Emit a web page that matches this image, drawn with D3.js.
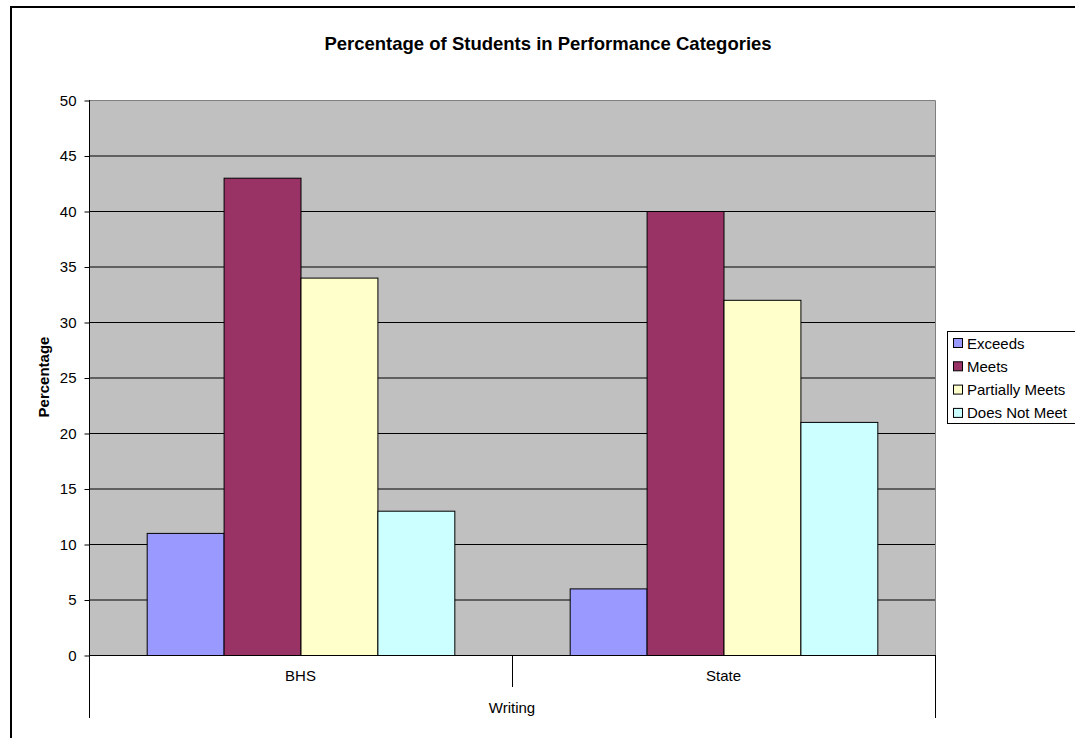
<!DOCTYPE html>
<html>
<head>
<meta charset="utf-8">
<script src="https://cdn.jsdelivr.net/npm/d3@7"></script>
<style>
  body { margin: 0; background: #fff; }
  svg text { font-family: Arial, "Liberation Sans", sans-serif; fill: #000; }
</style>
</head>
<body>
<div id="chart"></div>
<script>

// data
var groups = ["BHS", "State"];
var series = ["Exceeds", "Meets", "Partially Meets", "Does Not Meet"];
var bhsValues = [11, 43, 34, 13];
var stateValues = [6, 40, 32, 21];
var yTicks = [0, 5, 10, 15, 20, 25, 30, 35, 40, 45, 50];
var colors = ["#9999FF", "#993366", "#FFFFCC", "#CCFFFF"];
var chartTitle = "Percentage of Students in Performance Categories";
var yTitle = "Percentage";
var xTitle = "Writing";


/*
 * GroupedBarChart - draws the clustered bars, axes and legend
 */

GroupedBarChart = function(_parentElement){
    this.parentElement = _parentElement;
    this.displayData = [];
    this.initVis();
}

GroupedBarChart.prototype.initVis = function(){
    var vis = this;

    vis.svg = d3.select("#" + vis.parentElement).append("svg")
        .attr("width", 1075)
        .attr("height", 738);

    // outer chart frame (runs off the right and bottom edge)
    vis.svg.append("rect")
        .attr("x", 11).attr("y", 7)
        .attr("width", 1100).attr("height", 780)
        .attr("fill", "#fff")
        .attr("stroke", "#000")
        .attr("stroke-width", 2);

    vis.plot = {left: 89, right: 935, top: 100, bottom: 655};

    vis.x0 = d3.scaleBand()
        .domain(groups)
        .range([vis.plot.left, vis.plot.right])
        .padding(0);

    vis.x1 = d3.scaleBand()
        .domain(series)
        .range([0, vis.x0.bandwidth()])
        .paddingInner(0)
        .paddingOuter(0.75);

    vis.y = d3.scaleLinear()
        .domain([0, 50])
        .range([vis.plot.bottom, vis.plot.top]);

    vis.color = d3.scaleOrdinal()
        .domain(series)
        .range(colors);

    vis.wrangleData();
}

GroupedBarChart.prototype.wrangleData = function(){
    var vis = this;

    var lookup = {BHS: bhsValues, State: stateValues};
    vis.displayData = groups.map(function(g){
        return {group: g, values: series.map(function(s, i){ return {key: s, value: lookup[g][i]}; })};
    });

    vis.updateVis();
}

GroupedBarChart.prototype.updateVis = function(){
    var vis = this;
    var p = vis.plot;

    // plot background
    vis.svg.append("rect")
        .attr("x", p.left).attr("y", p.top)
        .attr("width", p.right - p.left)
        .attr("height", p.bottom - p.top)
        .attr("fill", "#C0C0C0");

    // gridlines
    vis.svg.append("g").selectAll("line")
        .data(yTicks.filter(function(d){ return d > 0 && d < 50; }))
        .enter().append("line")
        .attr("x1", p.left).attr("x2", p.right)
        .attr("y1", function(d){ return vis.y(d) + 0.5; })
        .attr("y2", function(d){ return vis.y(d) + 0.5; })
        .attr("stroke", "#000")
        .attr("stroke-width", 1);

    // plot border, top and right
    vis.svg.append("path")
        .attr("d", "M" + p.left + "," + (p.top + 0.5) + "H" + (p.right + 0.5) + "V" + p.bottom)
        .attr("fill", "none")
        .attr("stroke", "#808080")
        .attr("stroke-width", 1);

    // bars
    var groupsG = vis.svg.selectAll(".group")
        .data(vis.displayData)
        .enter().append("g")
        .attr("class", "group")
        .attr("transform", function(d){ return "translate(" + vis.x0(d.group) + ",0)"; });

    groupsG.selectAll("rect")
        .data(function(d){ return d.values; })
        .enter().append("rect")
        .attr("x", function(d){ return vis.x1(d.key) + 0.5; })
        .attr("y", function(d){ return vis.y(d.value) + 0.5; })
        .attr("width", vis.x1.bandwidth())
        .attr("height", function(d){ return vis.y(0) - vis.y(d.value); })
        .attr("fill", function(d){ return vis.color(d.key); })
        .attr("stroke", "#000")
        .attr("stroke-width", 1);

    // y axis
    vis.yAxis = d3.axisLeft(vis.y)
        .tickValues(yTicks)
        .tickSize(5)
        .tickSizeOuter(0)
        .tickPadding(8);

    var yg = vis.svg.append("g")
        .attr("class", "y-axis axis")
        .attr("transform", "translate(" + (p.left + 0.5) + ",0.5)")
        .call(vis.yAxis);
    yg.select(".domain").remove();
    yg.selectAll("line").attr("stroke", "#000");
    yg.selectAll("text")
        .style("font-size", "15px")
        .attr("fill", "#000");

    // axis lines + category separators below the plot
    var axisG = vis.svg.append("g").attr("stroke", "#000").attr("stroke-width", 1);
    axisG.append("line")
        .attr("x1", p.left + 0.5).attr("x2", p.left + 0.5)
        .attr("y1", p.top).attr("y2", 718);
    axisG.append("line")
        .attr("x1", p.left).attr("x2", p.right + 1)
        .attr("y1", vis.y(0) + 0.5).attr("y2", vis.y(0) + 0.5);
    axisG.append("line")
        .attr("x1", p.right + 0.5).attr("x2", p.right + 0.5)
        .attr("y1", vis.y(0)).attr("y2", 718);
    axisG.append("line")
        .attr("x1", vis.x0("State") + 0.5).attr("x2", vis.x0("State") + 0.5)
        .attr("y1", vis.y(0)).attr("y2", 687);

    // category labels
    vis.svg.selectAll(".cat-label")
        .data(groups)
        .enter().append("text")
        .attr("class", "cat-label")
        .attr("x", function(d){ return vis.x0(d) + vis.x0.bandwidth() / 2; })
        .attr("y", 681)
        .attr("text-anchor", "middle")
        .style("font-size", "15px")
        .text(function(d){ return d; });

    vis.svg.append("text")
        .attr("x", (p.left + p.right) / 2)
        .attr("y", 713)
        .attr("text-anchor", "middle")
        .style("font-size", "15px")
        .text(xTitle);

    // titles
    vis.svg.append("text")
        .attr("x", 548)
        .attr("y", 50)
        .attr("text-anchor", "middle")
        .style("font-size", "18.5px")
        .style("font-weight", "bold")
        .text(chartTitle);

    vis.svg.append("text")
        .attr("transform", "translate(49,377) rotate(-90)")
        .attr("text-anchor", "middle")
        .style("font-size", "15px")
        .style("font-weight", "bold")
        .text(yTitle);

    // legend
    var lg = vis.svg.append("g").attr("transform", "translate(947,331)");
    lg.append("rect")
        .attr("x", 0.5).attr("y", 0.5)
        .attr("width", 160).attr("height", 92)
        .attr("fill", "#fff")
        .attr("stroke", "#000");

    var items = lg.selectAll(".legend-item")
        .data(series)
        .enter().append("g")
        .attr("class", "legend-item")
        .attr("transform", function(d, i){ return "translate(0," + (12 + i * 23.3) + ")"; });

    items.append("rect")
        .attr("x", 6.5).attr("y", -4.5)
        .attr("width", 9).attr("height", 9)
        .attr("fill", function(d){ return vis.color(d); })
        .attr("stroke", "#000");

    items.append("text")
        .attr("x", 20)
        .attr("y", 5.5)
        .style("font-size", "15px")
        .text(function(d){ return d; });
}

var chart = new GroupedBarChart("chart");

</script>
</body>
</html>
